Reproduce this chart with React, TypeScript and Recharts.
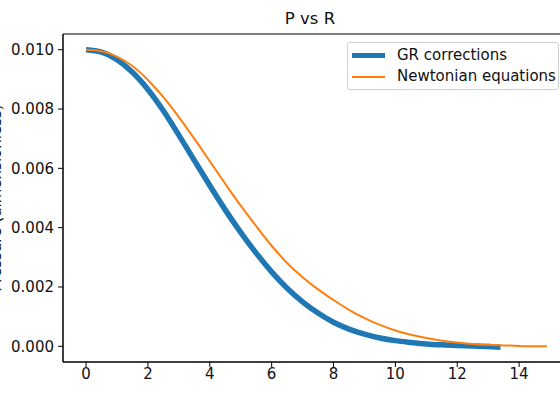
import { LineChart, Line, XAxis, YAxis, Legend, ReferenceArea, Label } from "recharts"

const grRadius = [0, 0.5, 1, 1.5, 2, 2.5, 3, 3.5, 4, 4.5, 5, 5.5, 6, 6.5, 7, 7.5, 8, 8.5, 9, 9.5, 10, 10.5, 11, 11.5, 12, 12.5, 13, 13.4]
const grPressure = [
  0.0100, 0.00992, 0.00966, 0.00924, 0.00866, 0.00794, 0.00712, 0.00627, 0.00542, 0.0046,
  0.00384, 0.00314, 0.00251, 0.00196, 0.0015, 0.00112, 0.00081, 0.00058, 0.00041, 0.00028,
  0.00019, 0.00013, 0.00008, 0.00005, 0.00003, 0.00001, -0.00001, -0.00003,
]

const nwRadius = [0, 0.5, 1, 1.5, 2, 2.5, 3, 3.5, 4, 4.5, 5, 5.5, 6, 6.5, 7, 7.5, 8, 8.5, 9, 9.5, 10, 10.5, 11, 11.5, 12, 12.5, 13, 13.5, 14, 14.5, 14.9]
const nwPressure = [
  0.0100, 0.00995, 0.00977, 0.00945, 0.00898, 0.0084, 0.00773, 0.007, 0.00624, 0.00548,
  0.00474, 0.00405, 0.00339, 0.00281, 0.00233, 0.00192, 0.00156, 0.00123, 0.00095, 0.00072,
  0.00053, 0.00039, 0.00028, 0.00019, 0.00013, 0.00008, 0.00005, 0.00003, 0.00001, 0, 0,
]

const xTicks = [0, 2, 4, 6, 8, 10, 12, 14]
const yTicks = [0, 0.002, 0.004, 0.006, 0.008, 0.01]

const grData = grRadius.map((r, i) => ({ r, p: grPressure[i] }))
const nwData = nwRadius.map((r, i) => ({ r, p: nwPressure[i] }))

const X_DOMAIN: [number, number] = [-0.745, 15.645]
const Y_DOMAIN: [number, number] = [-0.00053, 0.01053]

const font = "'DejaVu Sans', sans-serif"
const tickStyle = { fill: "#111", fontSize: 15, fontFamily: font }

function LegendBox({ payload }: any) {
  return (
    <div
      style={{
        width: 212,
        height: 48,
        border: "1px solid #d0d0d0",
        borderRadius: 3,
        background: "rgba(255,255,255,0.8)",
        fontFamily: font,
        fontSize: 15,
        color: "#111",
        boxSizing: "border-box",
        paddingTop: 2,
        whiteSpace: "nowrap",
      }}
    >
      {(payload || []).map((item: any) => (
        <div key={item.value} style={{ display: "flex", alignItems: "center", height: 21 }}>
          <div
            style={{
              marginLeft: 4,
              width: 33,
              flex: "none",
              height: item.value === "GR corrections" ? 5 : 2,
              background: item.color,
            }}
          />
          <span style={{ marginLeft: 12, lineHeight: "21px" }}>{item.value}</span>
        </div>
      ))}
    </div>
  )
}

export default function App() {
  return (
    <div style={{ position: "absolute", left: 0, top: 0, width: 560, height: 393, overflow: "hidden", background: "#fff" }}>
      <div
        style={{
          position: "absolute",
          left: 250,
          top: 9,
          width: 120,
          textAlign: "center",
          fontFamily: font,
          fontSize: 16.5,
          color: "#111",
        }}
      >
        P vs R
      </div>
      <LineChart width={580} height={393} margin={{ top: 34, right: 10, bottom: 0, left: 0 }}>
        <XAxis
          type="number"
          dataKey="r"
          domain={X_DOMAIN}
          allowDataOverflow
          ticks={xTicks}
          height={31}
          tick={tickStyle}
          tickSize={5}
          tickMargin={1}
          stroke="#000"
        />
        <YAxis
          type="number"
          dataKey="p"
          domain={Y_DOMAIN}
          allowDataOverflow
          ticks={yTicks}
          width={63}
          tick={tickStyle}
          tickSize={5}
          tickMargin={4}
          tickFormatter={(v: number) => v.toFixed(3)}
          stroke="#000"
        >
          <Label
            content={(props: any) => {
              const vb = props.viewBox || { y: 34, height: 328 }
              const cy = vb.y + vb.height / 2
              return (
                <text
                  x={1}
                  y={cy}
                  transform={`rotate(-90, 1, ${cy})`}
                  textAnchor="middle"
                  fontSize={15}
                  fontFamily={font}
                  fill="#111"
                >
                  Pressure (dimensionless)
                </text>
              )
            }}
          />
        </YAxis>
        <ReferenceArea
          x1={X_DOMAIN[0]}
          x2={X_DOMAIN[1]}
          y1={Y_DOMAIN[0]}
          y2={Y_DOMAIN[1]}
          fill="none"
          stroke="#000"
          strokeWidth={1}
          ifOverflow="visible"
        />
        <Line
          data={grData}
          dataKey="p"
          name="GR corrections"
          type="monotone"
          stroke="#1f77b4"
          strokeWidth={5.5}
          dot={false}
          isAnimationActive={false}
        />
        <Line
          data={nwData}
          dataKey="p"
          name="Newtonian equations"
          type="monotone"
          stroke="#ff7f0e"
          strokeWidth={2}
          dot={false}
          isAnimationActive={false}
        />
        <Legend
          layout="horizontal"
          verticalAlign="middle"
          align="center"
          content={<LegendBox />}
          wrapperStyle={{ position: "absolute", top: 42, left: 347, width: 215 }}
        />
      </LineChart>
    </div>
  )
}
